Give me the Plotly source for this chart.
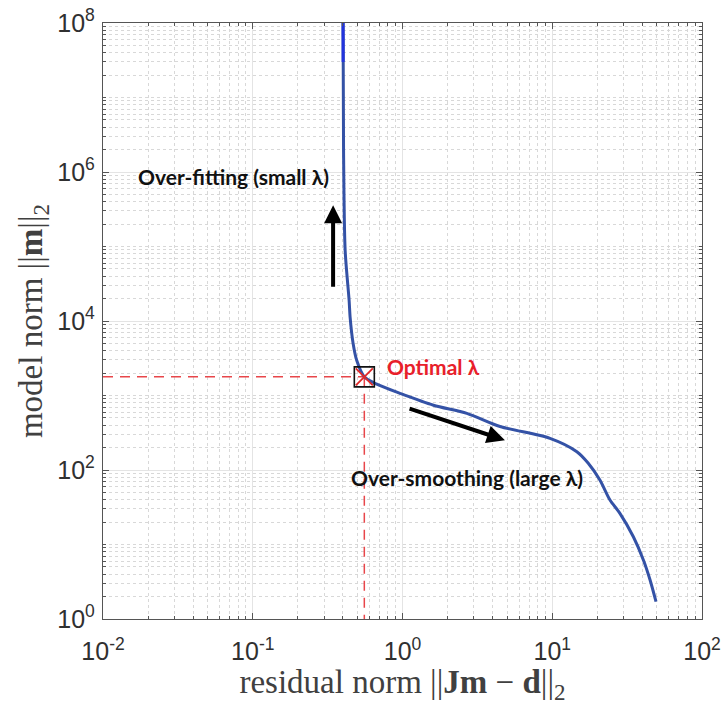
import math
import plotly.graph_objects as go

# L-curve data (residual norm, model norm)
residual_norm = [0.401, 0.404, 0.414, 0.440, 0.447, 0.468, 0.495, 0.556, 0.673, 0.962,
                 1.61, 2.69, 4.48, 9.66, 14.6, 17.4, 20.8, 24.3, 28.3, 34.8, 40.6, 45.0, 49.3]
model_norm = [1e8, 1.95e6, 8.9e4, 1.9e4, 1.12e4, 5.0e3, 2.95e3, 1.78e3, 1.42e3, 1.07e3,
              741, 575, 384, 266, 176, 123, 73.3, 39.5, 26.2, 12.7, 6.2, 3.34, 1.71]
# brighter top segment of the curve
top_residual = [0.401, 0.4015]
top_model = [1e8, 3e7]

# optimal lambda corner
opt_residual = 0.556
opt_model = 1780

x_min, x_max = 1e-2, 1e2
y_min, y_max = 1e0, 1e8

x_tickvals = [1e-2, 1e-1, 1e0, 1e1, 1e2]
x_ticktext = ["10<sup>-2</sup>", "10<sup>-1</sup>", "10<sup>0</sup>", "10<sup>1</sup>", "10<sup>2</sup>"]
y_tickvals = [1e0, 1e2, 1e4, 1e6, 1e8]
y_ticktext = ["10<sup>0</sup>", "10<sup>2</sup>", "10<sup>4</sup>", "10<sup>6</sup>", "10<sup>8</sup>"]

x_minor = [m * 10 ** k for k in range(-2, 2) for m in range(2, 10)]
y_minor = [m * 10 ** k for k in range(0, 8) for m in range(2, 10)] + [1e1, 1e3, 1e5, 1e7]

# annotation anchors (data values)
overfit_label = (0.074, 8.7e5)
overfit_arrow = ((0.344, 2.75e4), (0.344, 3.58e5))
smooth_arrow = ((1.09, 678), (4.83, 251))
smooth_label = (2.70, 80)
optimal_label = (0.76, 2450)

LINE = "#3452A6"
RED = "#E8464A"

fig = go.Figure()
fig.add_trace(go.Scatter(x=[x_min, opt_residual], y=[opt_model, opt_model], mode="lines",
                         line=dict(color=RED, width=1.5, dash="10px,7px"), hoverinfo="skip"))
fig.add_trace(go.Scatter(x=[opt_residual, opt_residual], y=[opt_model, y_min], mode="lines",
                         line=dict(color=RED, width=1.5, dash="10px,7px"), hoverinfo="skip"))
fig.add_trace(go.Scatter(x=residual_norm, y=model_norm, mode="lines",
                         line=dict(color=LINE, width=3, shape="spline", smoothing=0.8)))
fig.add_trace(go.Scatter(x=top_residual, y=top_model, mode="lines",
                         line=dict(color="#2233DD", width=3)))
fig.add_trace(go.Scatter(x=[opt_residual], y=[opt_model], mode="markers",
                         marker=dict(symbol="x-thin-open", size=17, color="#E02828",
                                     line=dict(color="#E02828", width=1.8))))
fig.add_trace(go.Scatter(x=[opt_residual], y=[opt_model], mode="markers",
                         marker=dict(symbol="square-open", size=20, color="#111111",
                                     line=dict(color="#111111", width=1.6))))

L = math.log10
ann = []
ann.append(dict(x=L(overfit_label[0]), y=L(overfit_label[1]), xref="x", yref="y",
                text="<b>Over-fitting (small λ)</b>", showarrow=False,
                font=dict(family="Lato", size=21, color="#111111")))
ann.append(dict(x=L(smooth_label[0]), y=L(smooth_label[1]), xref="x", yref="y",
                text="<b>Over-smoothing (large λ)</b>", showarrow=False,
                font=dict(family="Lato", size=21, color="#111111")))
ann.append(dict(x=L(optimal_label[0]), y=L(optimal_label[1]), xref="x", yref="y",
                text="<b>Optimal λ</b>", showarrow=False, xanchor="left",
                font=dict(family="Lato", size=21, color="#E8202A")))
for (t, h) in [overfit_arrow, smooth_arrow]:
    ann.append(dict(x=L(h[0]), y=L(h[1]), ax=L(t[0]), ay=L(t[1]), xref="x", yref="y",
                    axref="x", ayref="y", text="", showarrow=True, arrowhead=2,
                    arrowsize=0.9, arrowwidth=4, arrowcolor="#000000"))

axis_common = dict(
    type="log", showline=True, linecolor="#555555", linewidth=1.3, mirror="allticks",
    ticks="inside", ticklen=6, tickcolor="#555555", showgrid=True, gridcolor="#E4E4E4",
    gridwidth=1, zeroline=False, automargin=False,
    tickfont=dict(family="Liberation Sans", size=25, color="#303030"),
)
minor_common = dict(tickmode="array", ticks="inside", ticklen=3, tickcolor="#555555",
                    showgrid=True, gridcolor="#D8D8D8", griddash="dot", gridwidth=1)

fig.update_layout(
    width=723, height=705, margin=dict(l=103, r=21, t=23, b=86, autoexpand=False),
    paper_bgcolor="white", plot_bgcolor="white", showlegend=False,
    annotations=ann,
    xaxis=dict(axis_common, range=[L(x_min), L(x_max)], tickmode="array",
               tickvals=x_tickvals, ticktext=x_ticktext, ticklabelstandoff=10,
               minor=dict(minor_common, tickvals=x_minor),
               title=dict(text="residual norm ||<b>Jm</b> − <b>d</b>||<sub>2</sub>",
                          font=dict(family="Liberation Serif", size=33, color="#404040"),
                          standoff=6)),
    yaxis=dict(axis_common, range=[L(y_min), L(y_max)], tickmode="array",
               tickvals=y_tickvals, ticktext=y_ticktext, ticklabelstandoff=2,
               minor=dict(minor_common, tickvals=y_minor),
               title=dict(text="model norm ||<b>m</b>||<sub>2</sub>",
                          font=dict(family="Liberation Serif", size=33, color="#404040"),
                          standoff=4)),
)

fig.write_html("out.html")
